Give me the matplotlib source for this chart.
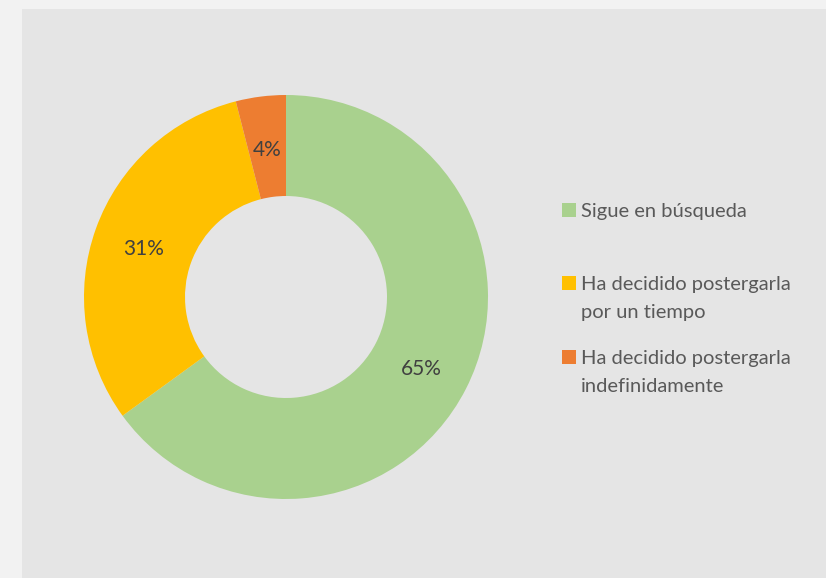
import matplotlib
matplotlib.use("Agg")
import matplotlib.pyplot as plt
from matplotlib.patches import Rectangle

categories = ["Sigue en búsqueda",
              "Ha decidido postergarla\npor un tiempo",
              "Ha decidido postergarla\nindefinidamente"]
values = [65, 31, 4]
colors = ["#a9d18e", "#ffc000", "#ed7d31"]

plt.rcParams['font.family'] = ['Lato', 'DejaVu Sans']

W, H = 826, 578
fig = plt.figure(figsize=(W / 100, H / 100), dpi=100)
fig.patch.set_facecolor("#f2f2f2")
fig.patches.append(Rectangle((22 / W, 0), 1 - 22 / W, 1 - 9 / H,
                             transform=fig.transFigure, facecolor="#e5e5e5",
                             edgecolor="none", zorder=-5))

cx, cy, r = 286, 297, 202
ax = fig.add_axes([(cx - r) / W, 1 - (cy + r) / H, 2 * r / W, 2 * r / H])
ax.set_facecolor("none")
ax.set_zorder(2)
wedges, texts, autotexts = ax.pie(
    values, colors=colors, startangle=90, counterclock=False,
    radius=1.0, wedgeprops=dict(width=0.5, edgecolor="none"),
    autopct=lambda p: f"{p:.0f}%", pctdistance=0.75,
    textprops=dict(color="#404040", fontsize=15))
for t in autotexts:
    x, y = t.get_position()
    t.set_position((x, y - 0.015))
ax.set_xlim(-1, 1)
ax.set_ylim(-1, 1)
ax.set_aspect("equal")

# legend (drawn manually to mimic first-line alignment)
first_line_y = [210, 283, 357]
for lab, col, y in zip(categories, colors, first_line_y):
    fig.patches.append(Rectangle((562 / W, 1 - (y + 7) / H), 14 / W, 14 / H,
                                 transform=fig.transFigure, facecolor=col,
                                 edgecolor="none", zorder=3))
    for i, line in enumerate(lab.split("\n")):
        fig.text(581 / W, 1 - (y + 28 * i) / H, line, fontsize=14.5,
                 color="#595959", va="center_baseline", ha="left", zorder=3)

fig.savefig("out.png", dpi=100, facecolor=fig.get_facecolor())
